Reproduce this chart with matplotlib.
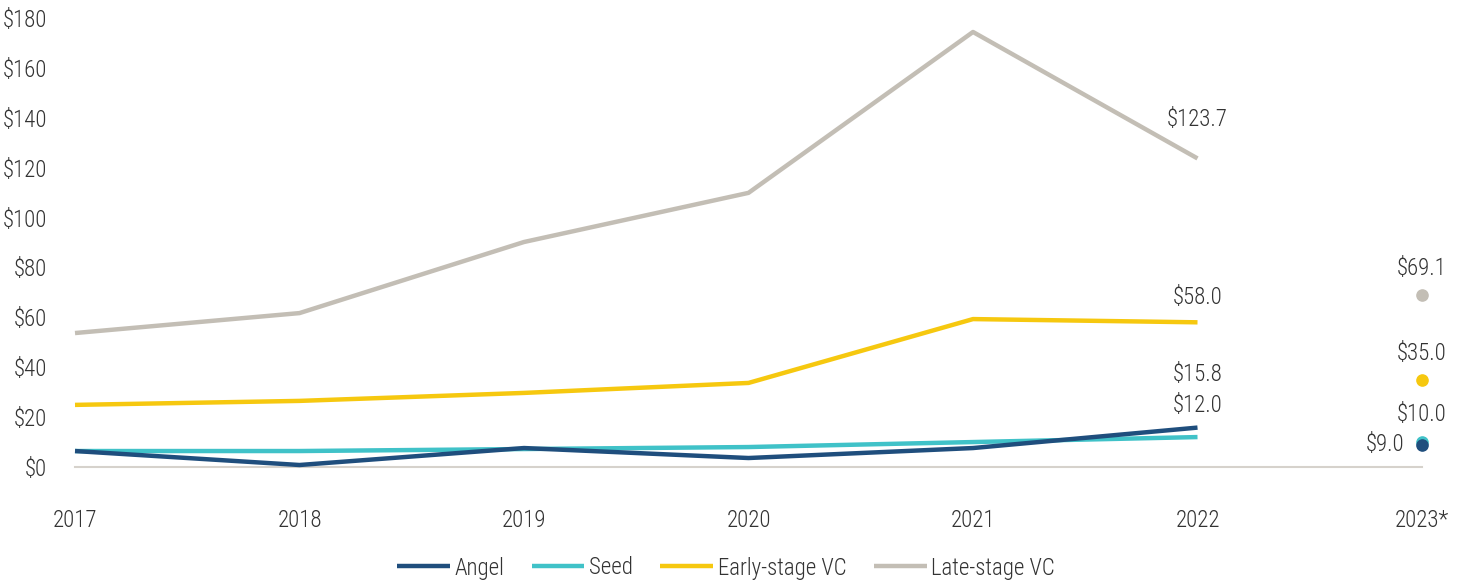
import matplotlib
matplotlib.use("Agg")
import matplotlib.pyplot as plt
from matplotlib import font_manager

# deal value by stage, $B
years = [2017, 2018, 2019, 2020, 2021, 2022]
angel = [6.4, 0.8, 7.6, 3.6, 7.6, 15.8]
seed = [6.4, 6.4, 7.2, 8.0, 10.0, 12.0]
early_vc = [24.9, 26.5, 29.7, 33.7, 59.3, 58.0]
late_vc = [53.7, 61.7, 90.2, 109.9, 174.4, 123.7]

# 2023 estimates, shown as single dots
est_year = 2023
est_angel = 9.0
est_seed = 10.0
est_early = 35.0
est_late = 69.1

tick_years = [2017, 2018, 2019, 2020, 2021, 2022, 2023]
tick_labels = ["2017", "2018", "2019", "2020", "2021", "2022", "2023*"]
y_ticks = [0, 20, 40, 60, 80, 100, 120, 140, 160, 180]

names = {f.name for f in font_manager.fontManager.ttflist}
family = "DejaVu Sans"
for cand in ["Liberation Sans Narrow", "Roboto Condensed", "Open Sans Condensed", "DejaVu Sans"]:
    if cand in names:
        family = cand
        break
plt.rcParams["font.family"] = [family, "DejaVu Sans"]
plt.rcParams["font.stretch"] = "condensed"
plt.rcParams["font.weight"] = "light"

c_angel = "#1f4e7d"
c_seed = "#40c2c8"
c_early = "#f6c80f"
c_late = "#c3beb5"
txt = "#333333"

fig = plt.figure(figsize=(14.61, 5.81), dpi=100)
ax = fig.add_axes([75 / 1461, 1 - 467 / 581, (1422 - 75) / 1461, (467 - 18) / 581])

lw = 3.2
ax.plot(years, late_vc, color=c_late, lw=lw, label="Late-stage VC", clip_on=False, solid_capstyle="butt")
ax.plot(years, early_vc, color=c_early, lw=lw, label="Early-stage VC", clip_on=False, solid_capstyle="butt")
ax.plot(years, seed, color=c_seed, lw=lw, label="Seed", clip_on=False, solid_capstyle="butt")
ax.plot(years, angel, color=c_angel, lw=lw, label="Angel", clip_on=False, solid_capstyle="butt")

ax.scatter([est_year], [est_late], s=65, color=c_late, clip_on=False, zorder=3)
ax.scatter([est_year], [est_early], s=65, color=c_early, clip_on=False, zorder=3)
ax.scatter([est_year], [est_seed], s=65, color=c_seed, clip_on=False, zorder=3)
ax.scatter([est_year], [est_angel], s=65, color=c_angel, clip_on=False, zorder=4)

fs = 16.5
def label(x, y, v, dy, dx=0, ha="center"):
    ax.annotate(f"${v:.1f}", (x, y), xytext=(dx, dy), textcoords="offset points",
                ha=ha, va="center", fontsize=fs, color=txt, annotation_clip=False)

label(years[-1], late_vc[-1], late_vc[-1], 28)
label(years[-1], early_vc[-1], early_vc[-1], 18)
label(years[-1], angel[-1], angel[-1], 38)
label(years[-1], seed[-1], seed[-1], 23)
label(est_year, est_late, est_late, 19)
label(est_year, est_early, est_early, 19)
label(est_year, est_seed, est_seed, 20)
label(est_year, est_angel, est_angel, 0, dx=-13, ha="right")

ax.set_xlim(2017, 2023)
ax.set_ylim(0, 180)
ax.set_xticks(tick_years)
ax.set_xticklabels(tick_labels)
ax.set_yticks(y_ticks)
ax.set_yticklabels([f"${v}" for v in y_ticks])
ax.tick_params(axis="both", length=0, labelsize=fs, colors=txt)
ax.tick_params(axis="x", pad=30)
ax.tick_params(axis="y", pad=20)

for s in ["top", "right", "left"]:
    ax.spines[s].set_visible(False)
ax.spines["bottom"].set_color("#d6d2cc")
ax.spines["bottom"].set_linewidth(1.5)
ax.spines["bottom"].set_zorder(0)

handles, labels = ax.get_legend_handles_labels()
order = [3, 2, 1, 0]
fig.legend([handles[i] for i in order], [labels[i] for i in order],
           loc="center", bbox_to_anchor=(726 / 1461, 1 - 568 / 581), ncol=4,
           frameon=False, fontsize=fs, handlelength=2.3, handletextpad=0.2,
           columnspacing=1.2, labelcolor=txt)

fig.savefig("out.png", dpi=100)
